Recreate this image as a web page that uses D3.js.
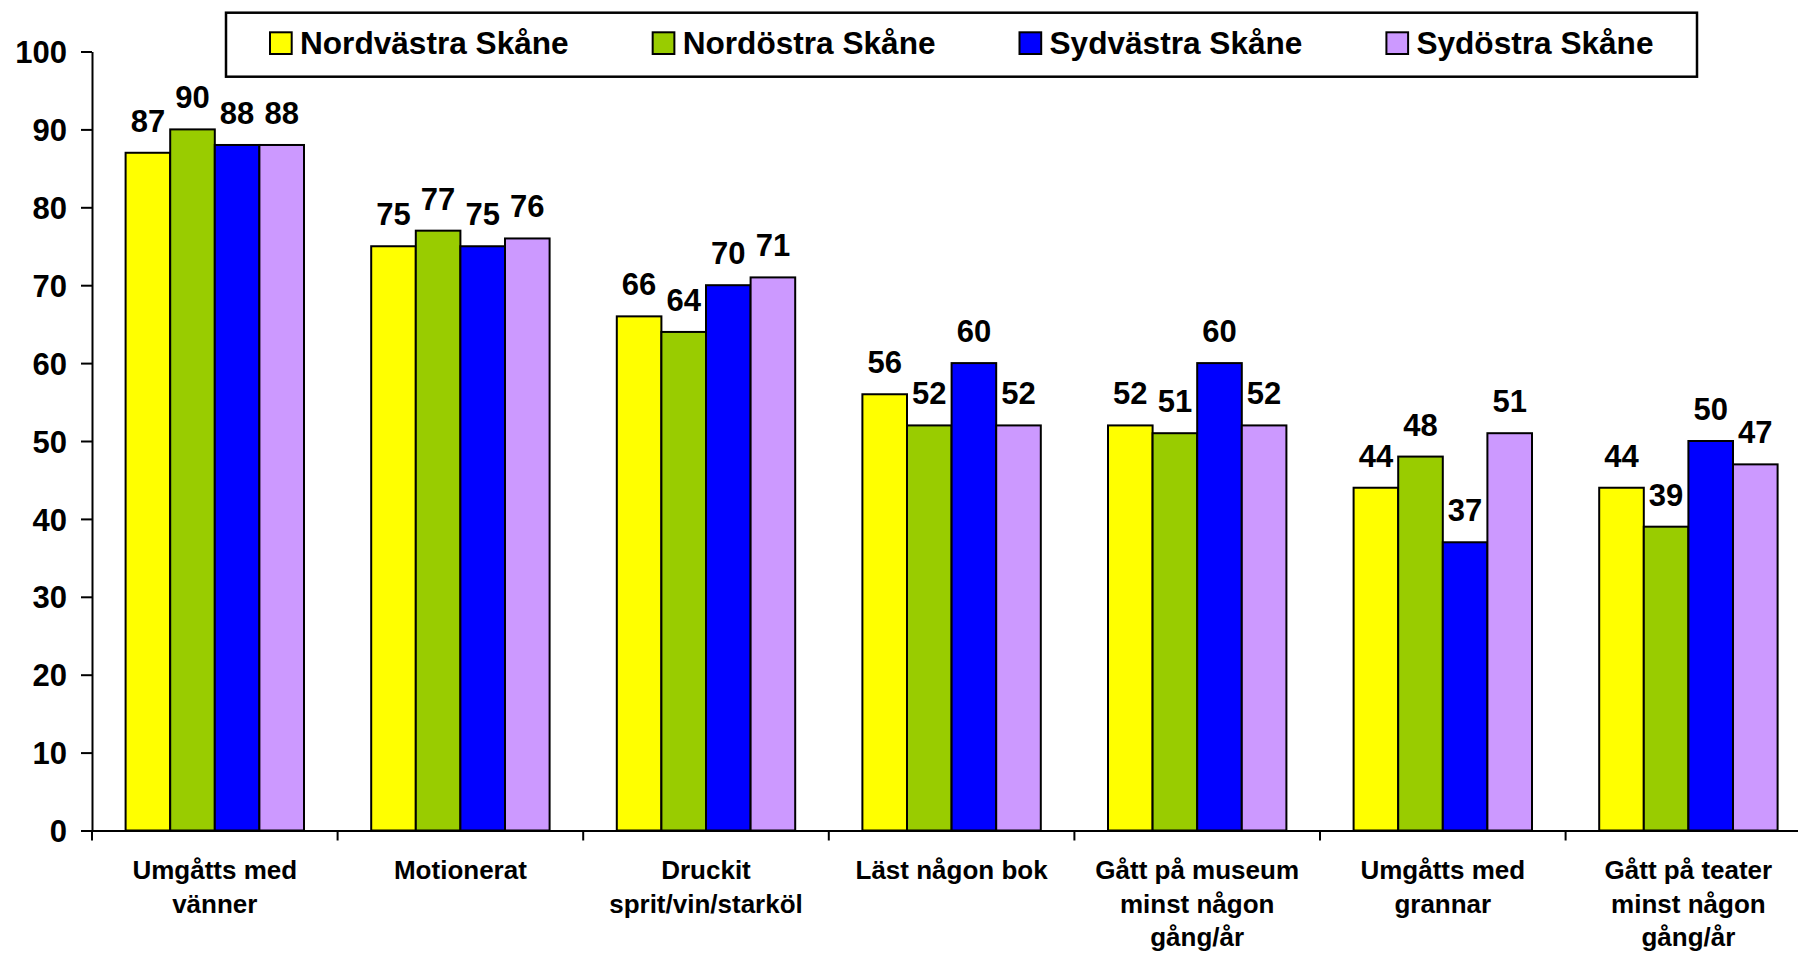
<!DOCTYPE html>
<html>
<head>
<meta charset="utf-8">
<script src="https://cdn.jsdelivr.net/npm/d3@7"></script>
<style>
body { margin: 0; background: #fff; }
svg text { font-family: "Liberation Sans", Arial, sans-serif; font-weight: bold; fill: #000; }
</style>
</head>
<body>
<script>
// data
categories = ["Umgåtts med\nvänner", "Motionerat", "Druckit\nsprit/vin/starköl", "Läst någon bok",
  "Gått på museum\nminst någon\ngång/år", "Umgåtts med\ngrannar", "Gått på teater\nminst någon\ngång/år"]
series = ["Nordvästra Skåne", "Nordöstra Skåne", "Sydvästra Skåne", "Sydöstra Skåne"]
colors = ["#ffff00", "#99cc00", "#0000ff", "#cc99ff"]
nordvastra = [87, 75, 66, 56, 52, 44, 44]
nordostra = [90, 77, 64, 52, 51, 48, 39]
sydvastra = [88, 75, 70, 60, 60, 37, 50]
sydostra = [88, 76, 71, 52, 52, 51, 47]
yTicks = [0, 10, 20, 30, 40, 50, 60, 70, 80, 90, 100]

values = [nordvastra, nordostra, sydvastra, sydostra]
data = categories.map((c, i) => ({
  name: c,
  values: series.map((s, j) => ({key: s, value: values[j][i], color: colors[j]}))
}))

width = 1798
height = 953
band = 245.6
groupPad = 33.6

x = d3.scaleBand()
  .domain(categories)
  .range([92, 92 + band * categories.length])

x1 = d3.scaleBand()
  .domain(series)
  .range([groupPad, x.bandwidth() - groupPad])

y = d3.scaleLinear()
  .domain([0, 100])
  .range([830.5, 51.5])

const svg = d3.select("body").append("svg")
  .attr("width", width)
  .attr("height", height)
  .attr("viewBox", [0, 0, width, height])

// bars
const groups = svg.append("g")
  .attr("class", "bars")
  .selectAll("g")
  .data(data)
  .join("g")
  .attr("transform", d => `translate(${x(d.name)},0)`)

groups.selectAll("rect")
  .data(d => d.values)
  .join("rect")
  .attr("x", d => x1(d.key))
  .attr("y", d => y(d.value))
  .attr("width", x1.bandwidth())
  .attr("height", d => y(0) - y(d.value))
  .attr("fill", d => d.color)
  .attr("stroke", "#000")
  .attr("stroke-width", 2)

groups.selectAll("text")
  .data(d => d.values)
  .join("text")
  .attr("x", d => x1(d.key) + x1.bandwidth() / 2)
  .attr("y", d => y(d.value) - 21)
  .attr("text-anchor", "middle")
  .attr("font-size", 31)
  .text(d => d.value)

// y axis
yAxis = g => g
  .attr("transform", `translate(${x.range()[0]},0)`)
  .call(d3.axisLeft(y).tickValues(yTicks).tickSize(11).tickPadding(14).tickSizeOuter(0))
  .call(g => g.attr("font-family", null).attr("font-size", null))
  .call(g => g.selectAll("path, line").attr("stroke", "#000").attr("stroke-width", 2))
  .call(g => g.selectAll("text").attr("font-size", 31).attr("dy", "0.36em"))

// x axis, ticks between the categories
xAxis = g => g
  .attr("transform", `translate(0,${y(0)})`)
  .call(d3.axisBottom(x).tickSize(0).tickSizeOuter(0).tickFormat(""))
  .call(g => g.attr("font-family", null).attr("font-size", null))
  .call(g => g.select(".domain").attr("stroke", "#000").attr("stroke-width", 2))
  .call(g => g.selectAll(".tick").remove())

const xg = svg.append("g").attr("class", "x-axis").call(xAxis)

xg.selectAll(".sep")
  .data(categories.map(c => x(c)).concat([x.range()[1]]))
  .join("line")
  .attr("class", "sep")
  .attr("x1", d => d)
  .attr("x2", d => d)
  .attr("y1", 0)
  .attr("y2", 10)
  .attr("stroke", "#000")
  .attr("stroke-width", 2)

xg.selectAll(".cat")
  .data(categories)
  .join("text")
  .attr("class", "cat")
  .attr("text-anchor", "middle")
  .attr("font-size", 26)
  .each(function(d) {
    const t = d3.select(this)
    d.split("\n").forEach((line, i) => {
      t.append("tspan")
        .attr("x", x(d) + x.bandwidth() / 2)
        .attr("y", 48.8 + i * 33.4)
        .text(line)
    })
  })

svg.append("g").attr("class", "y-axis").call(yAxis)

// legend
const legend = svg.append("g").attr("class", "legend")

legend.append("rect")
  .attr("x", 226)
  .attr("y", 12.7)
  .attr("width", 1471)
  .attr("height", 64)
  .attr("fill", "#fff")
  .attr("stroke", "#000")
  .attr("stroke-width", 2.5)

let lx = 270
series.forEach((s, i) => {
  legend.append("rect")
    .attr("x", lx)
    .attr("y", 32.3)
    .attr("width", 21.7)
    .attr("height", 21.7)
    .attr("fill", colors[i])
    .attr("stroke", "#000")
    .attr("stroke-width", 2)
  const t = legend.append("text")
    .attr("x", lx + 30)
    .attr("y", 54)
    .attr("font-size", 31.6)
    .text(s)
  lx += 30 + t.node().getComputedTextLength() + 84
})
</script>
</body>
</html>
